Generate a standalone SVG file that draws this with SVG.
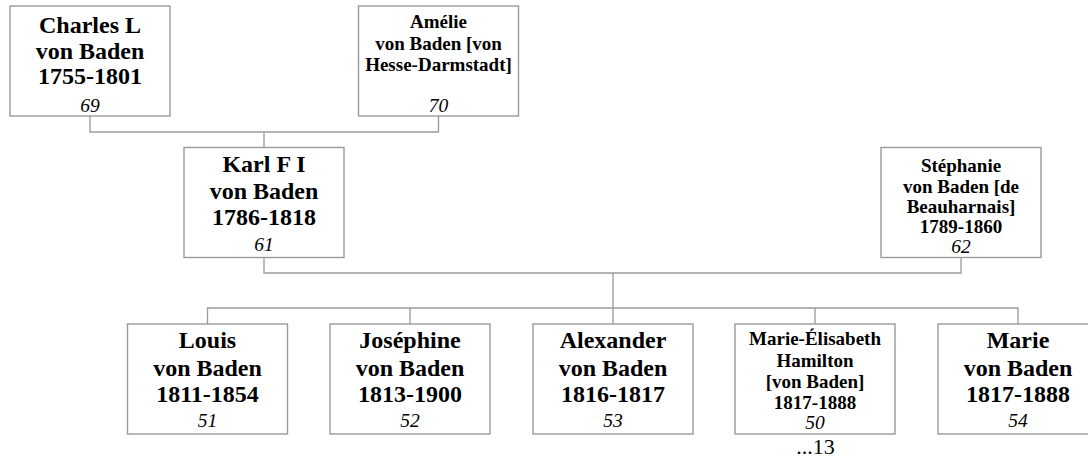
<svg xmlns="http://www.w3.org/2000/svg" width="1088" height="462" viewBox="0 0 1088 462">
<style>
.box{fill:#fff;stroke:#9a9a9a;stroke-width:1.4}
.lnk{fill:none;stroke:#9a9a9a;stroke-width:1.3}
text{font-family:"Liberation Serif","Times New Roman",serif;text-anchor:middle;fill:#000}
.b{font-weight:bold;font-size:24px}
.s{font-weight:bold;font-size:19px}
.i{font-style:italic;font-size:19.5px}
.r{font-size:22px}
</style>
<rect width="1088" height="462" fill="#fff"/>
<g id="connectors">
<path class="lnk" d="M90,116 V132 H438.5 V116"/>
<path class="lnk" d="M264,132 V147.5"/>
<path class="lnk" d="M264,257.5 V273 H961 V257.5"/>
<path class="lnk" d="M613,273 V324"/>
<path class="lnk" d="M207.5,324 V308 H1018 V324"/>
<path class="lnk" d="M410,308 V324 M815,308 V324"/>
</g>
<g id="charles">
<rect class="box" x="10" y="6" width="160" height="110"/>
<text class="b" x="90" y="33">Charles L</text>
<text class="b" x="90" y="58.5">von Baden</text>
<text class="b" x="90" y="84">1755-1801</text>
<text class="i" x="90" y="111.5">69</text>
</g>
<g id="amelie">
<rect class="box" x="358.5" y="6" width="160" height="110"/>
<text class="s" x="438.5" y="28">Amélie</text>
<text class="s" x="438.5" y="49.5">von Baden [von</text>
<text class="s" x="438.5" y="71">Hesse-Darmstadt]</text>
<text class="i" x="438.5" y="112">70</text>
</g>
<g id="karl">
<rect class="box" x="184" y="147.5" width="160" height="110"/>
<text class="b" x="264" y="172">Karl F I</text>
<text class="b" x="264" y="199">von Baden</text>
<text class="b" x="264" y="224.5">1786-1818</text>
<text class="i" x="264" y="251">61</text>
</g>
<g id="stephanie">
<rect class="box" x="881" y="147.5" width="160" height="110"/>
<text class="s" x="961" y="171.5">Stéphanie</text>
<text class="s" x="961" y="193">von Baden [de</text>
<text class="s" x="961" y="213">Beauharnais]</text>
<text class="s" x="961" y="233">1789-1860</text>
<text class="i" x="961" y="253">62</text>
</g>
<g id="louis">
<rect class="box" x="127.5" y="324" width="160" height="110"/>
<text class="b" x="207.5" y="348">Louis</text>
<text class="b" x="207.5" y="375.5">von Baden</text>
<text class="b" x="207.5" y="401.5">1811-1854</text>
<text class="i" x="207.5" y="427">51</text>
</g>
<g id="josephine">
<rect class="box" x="330" y="324" width="160" height="110"/>
<text class="b" x="410" y="348">Joséphine</text>
<text class="b" x="410" y="375.5">von Baden</text>
<text class="b" x="410" y="401.5">1813-1900</text>
<text class="i" x="410" y="427">52</text>
</g>
<g id="alexander">
<rect class="box" x="533" y="324" width="160" height="110"/>
<text class="b" x="613" y="348">Alexander</text>
<text class="b" x="613" y="375.5">von Baden</text>
<text class="b" x="613" y="401.5">1816-1817</text>
<text class="i" x="613" y="427">53</text>
</g>
<g id="marie-elisabeth">
<rect class="box" x="735" y="324" width="160" height="110"/>
<text class="s" x="815" y="345">Marie-Élisabeth</text>
<text class="s" x="815" y="366.5">Hamilton</text>
<text class="s" x="815" y="388">[von Baden]</text>
<text class="s" x="815" y="409">1817-1888</text>
<text class="i" x="815" y="429">50</text>
<text class="r" x="815.5" y="454">...13</text>
</g>
<g id="marie">
<rect class="box" x="938" y="324" width="160" height="110"/>
<text class="b" x="1018" y="348">Marie</text>
<text class="b" x="1018" y="375.5">von Baden</text>
<text class="b" x="1018" y="401.5">1817-1888</text>
<text class="i" x="1018" y="427">54</text>
</g>
</svg>
